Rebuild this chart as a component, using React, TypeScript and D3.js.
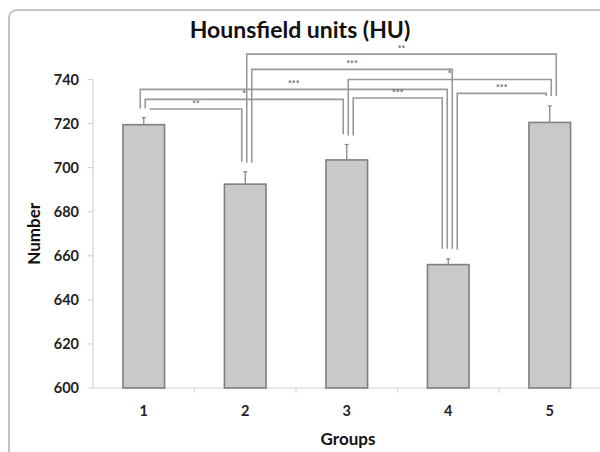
import React from 'react'
import * as d3 from 'd3'

const groups = ['1', '2', '3', '4', '5']
const means = [719.5, 692.5, 703.5, 656, 720.5]
const errors = [3.2, 5.6, 7, 2.6, 7.5]
const yTicks = [600, 620, 640, 660, 680, 700, 720, 740]

// significance brackets: from group, to group, stars, height of the bar (in HU)
const brFrom = ['1', '1', '1', '2', '2', '3', '3', '4']
const brTo = ['2', '3', '4', '4', '5', '4', '5', '5']
const brStars = ['**', '*', '***', '***', '**', '***', '*', '***']
const brLevel = [726.6, 731, 735.5, 744.6, 751.5, 731.6, 740, 733.7]

const W = 600
const H = 452
const font = 'Lato, "Open Sans", sans-serif'

export default function App() {
    const x = d3.scaleBand<string>()
        .domain(groups)
        .range([93, 600.5])
        .paddingInner(0.59)
        .paddingOuter(0.295)

    const y = d3.scaleLinear().domain([600, 740]).range([388, 79.5])

    const cx = (g: string) => (x(g) as number) + x.bandwidth() / 2
    const errTop = (g: string) => {
        const i = groups.indexOf(g)
        return y(means[i] + errors[i])
    }

    // order the legs over each bar: incoming ones (low first), then outgoing (high first)
    const brackets = brFrom.map((f, i) => ({ from: f, to: brTo[i], stars: brStars[i], level: brLevel[i] }))
    const legX: { [k: string]: number } = {}
    groups.forEach(g => {
        const incoming = brackets.filter(b => b.to === g).sort((a, b) => a.level - b.level)
        const outgoing = brackets.filter(b => b.from === g).sort((a, b) => b.level - a.level)
        const legs = incoming.map(b => b.from + '-' + b.to + ':' + g).concat(outgoing.map(b => b.from + '-' + b.to + ':' + g))
        const n = legs.length
        legs.forEach((k, j) => {
            legX[k] = cx(g) + (j - (n - 1) / 2) * 5 + 1.5
        })
    })

    const axisColor = '#d4d4d4'

    return (
        <div style={{ position: 'absolute', left: 0, top: 0 }}>
            <svg width={W} height={H} style={{ display: 'block', background: '#fff' }}>
                <rect x={9} y={10} width={W + 20} height={H + 20} rx={8} ry={8}
                    fill="none" stroke="#c4c4c4" strokeWidth={2} />

                <text x={300} y={38} textAnchor="middle" fontFamily={font} fontWeight={700}
                    fontSize={23} fill="#111">Hounsfield units (HU)</text>

                {/* y axis */}
                <line x1={93} x2={93} y1={y(740)} y2={y(600)} stroke={axisColor} strokeWidth={1.2} />
                {yTicks.map(t => (
                    <g key={t}>
                        <line x1={88} x2={93} y1={y(t)} y2={y(t)} stroke={axisColor} strokeWidth={1.2} />
                        <text x={79} y={y(t)} dy="0.35em" textAnchor="end" fontFamily={font}
                            fontWeight={700} fontSize={14.5} fill="#222">{t}</text>
                    </g>
                ))}
                <text transform={`translate(40,${y(670)}) rotate(-90)`} textAnchor="middle"
                    fontFamily={font} fontWeight={700} fontSize={17} fill="#111">Number</text>

                {/* x axis */}
                <line x1={93} x2={600} y1={y(600)} y2={y(600)} stroke={axisColor} strokeWidth={1.2} />
                {groups.slice(1).map(g => (
                    <line key={g} x1={(x(g) as number) - x.step() * x.paddingInner() / 2}
                        x2={(x(g) as number) - x.step() * x.paddingInner() / 2}
                        y1={y(600)} y2={y(600) + 5} stroke={axisColor} strokeWidth={1.2} />
                ))}
                {groups.map(g => (
                    <text key={g} x={cx(g)} y={416} textAnchor="middle" fontFamily={font}
                        fontWeight={700} fontSize={14.5} fill="#222">{g}</text>
                ))}
                <text x={348} y={445} textAnchor="middle" fontFamily={font} fontWeight={700}
                    fontSize={17} fill="#111">Groups</text>

                {/* bars and error bars */}
                {groups.map((g, i) => (
                    <g key={g}>
                        <rect x={x(g)} y={y(means[i])} width={x.bandwidth()} height={y(600) - y(means[i])}
                            fill="#c9c9c9" stroke="#808080" strokeWidth={1.6} />
                        <line x1={cx(g)} x2={cx(g)} y1={y(means[i])} y2={errTop(g)} stroke="#888" strokeWidth={1.3} />
                        <line x1={cx(g) - 2} x2={cx(g) + 2} y1={errTop(g)} y2={errTop(g)} stroke="#888" strokeWidth={1.3} />
                    </g>
                ))}

                {/* significance brackets */}
                {brackets.map((b, i) => {
                    const key = b.from + '-' + b.to
                    const x1 = legX[key + ':' + b.from]
                    const x2 = legX[key + ':' + b.to]
                    const yl = y(b.level)
                    const d = `M${x1},${errTop(b.from) - 9}V${yl}H${x2}V${errTop(b.to) - 10}`
                    return (
                        <g key={i}>
                            <path d={d} fill="none" stroke="#999" strokeWidth={1.6} />
                            <text x={(x1 + x2) / 2} y={yl - 2.5} textAnchor="middle" fontFamily={font}
                                fontWeight={700} fontSize={9} fill="#666">{b.stars}</text>
                        </g>
                    )
                })}
            </svg>
        </div>
    )
}
